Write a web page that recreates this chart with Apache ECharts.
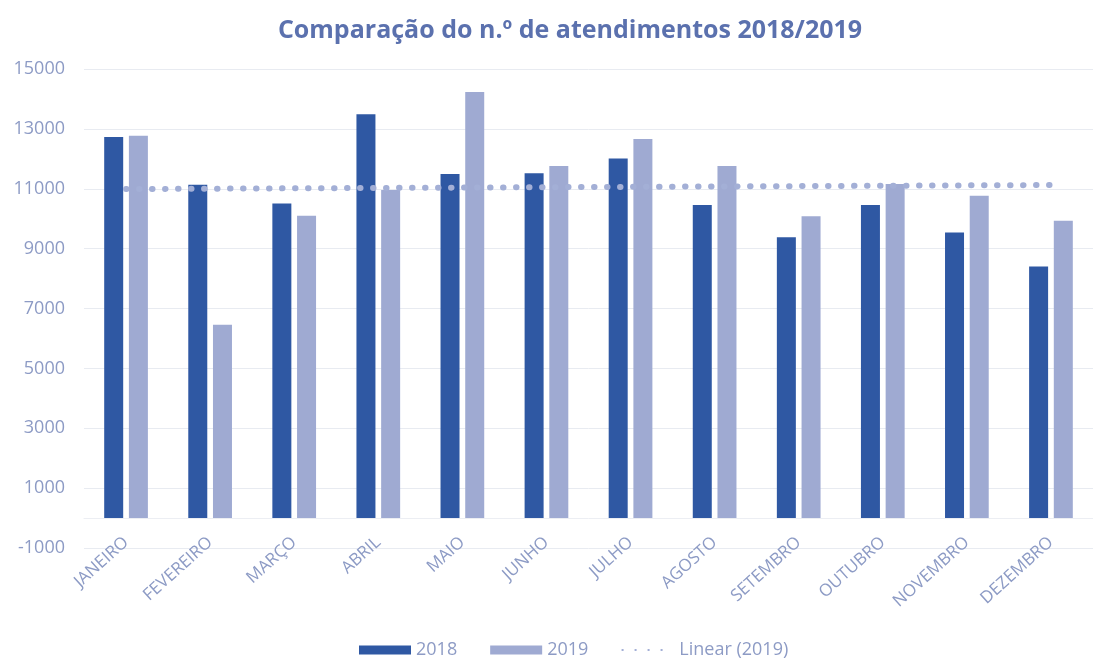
<!DOCTYPE html>
<html>
<head>
<meta charset="utf-8">
<script src="https://cdn.jsdelivr.net/npm/echarts@6/dist/echarts.min.js"></script>
<style>html,body{margin:0;padding:0;background:#fff}#c{width:1093px;height:659px}</style>
</head>
<body>
<div id="c"></div>
<script>
const categories = ['JANEIRO','FEVEREIRO','MARÇO','ABRIL','MAIO','JUNHO','JULHO','AGOSTO','SETEMBRO','OUTUBRO','NOVEMBRO','DEZEMBRO'];
const values2018 = [12730, 11130, 10510, 13490, 11490, 11520, 12010, 10460, 9380, 10460, 9540, 8400];
const values2019 = [12770, 6460, 10100, 10960, 14230, 11760, 12660, 11760, 10080, 11160, 10770, 9930];
const trend2019Ends = [10990, 11125];
const yTickLabels = [-1000, 1000, 3000, 5000, 7000, 9000, 11000, 13000, 15000];

const FONT = 'Open Sans';
const TXT = '#8d9bc5';
const chart = echarts.init(document.getElementById('c'));
chart.setOption({
  animation: false,
  backgroundColor: '#ffffff',
  title: {
    text: 'Comparação do n.º de atendimentos 2018/2019',
    left: 565, top: 13, textAlign: 'center',
    textStyle: { fontFamily: FONT, fontSize: 25, fontWeight: 'bold', color: '#5b71ae' }
  },
  grid: { left: 84, right: -9, top: 69, bottom: 111, containLabel: false },
  legend: {
    left: 354, top: 636,
    itemWidth: 52, itemHeight: 9, itemGap: 33,
    textStyle: { fontFamily: FONT, fontSize: 18, color: TXT },
    data: [
      { name: '2018', icon: 'rect' },
      { name: '2019', icon: 'rect' },
      { name: 'Linear (2019)', itemStyle: { opacity: 0 } }
    ]
  },
  xAxis: {
    type: 'category',
    data: categories,
    axisLine: { onZero: true, lineStyle: { color: '#eceef3', width: 1 } },
    axisTick: { show: false },
    axisLabel: { rotate: 42, interval: 0, margin: -8, fontFamily: FONT, fontSize: 17, color: TXT }
  },
  yAxis: {
    type: 'value',
    min: -1000, max: 15000, interval: 1000,
    axisLine: { show: false },
    axisTick: { show: false },
    axisLabel: {
      margin: 19, fontFamily: FONT, fontSize: 18, color: TXT,
      formatter: v => yTickLabels.indexOf(v) >= 0 ? String(v) : ''
    },
    splitLine: { show: true, lineStyle: { color: ['#e8ebf1', 'rgba(0,0,0,0)'], width: 1 } }
  },
  series: [
    { name: '2018', type: 'bar', data: values2018, barWidth: 19, barGap: '30%', itemStyle: { color: '#2f58a3' } },
    { name: '2019', type: 'bar', data: values2019, barWidth: 19, itemStyle: { color: '#9faad2' } },
    {
      name: 'Linear (2019)', type: 'line', z: 5,
      data: [[0, trend2019Ends[0]], [categories.length - 1, trend2019Ends[1]]],
      symbol: 'none',
      itemStyle: { color: '#a3afd6' },
      lineStyle: { color: '#a3afd6', width: 6, type: [0.5, 12.5], cap: 'round' }
    }
  ]
});
</script>
</body>
</html>
